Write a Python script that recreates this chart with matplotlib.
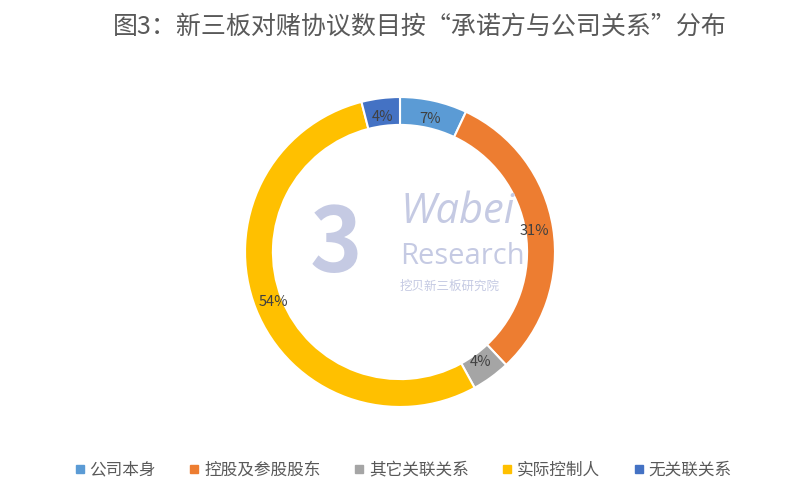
import matplotlib
matplotlib.use("Agg")
import matplotlib.pyplot as plt
from matplotlib.lines import Line2D

plt.rcParams['font.family'] = ['Noto Sans CJK SC', 'DejaVu Sans']

title = "图3：新三板对赌协议数目按“承诺方与公司关系”分布"
labels = ["公司本身", "控股及参股股东", "其它关联关系", "实际控制人", "无关联关系"]
shares = [7, 31, 4, 54, 4]
colors = ["#5B9BD5", "#ED7D31", "#A5A5A5", "#FFC000", "#4472C4"]

fig = plt.figure(figsize=(8, 4.92), dpi=100)
fig.text(0.525, 0.945, title, ha="center", va="center", fontsize=18, color="#595959")

ax = fig.add_axes([0.30625, 0.1728, 0.3875, 0.630])
wedges, texts, autotexts = ax.pie(
    shares, colors=colors, startangle=90, counterclock=False,
    radius=1.0, autopct="%d%%", pctdistance=0.88,
    wedgeprops=dict(width=0.18, edgecolor="white", linewidth=1.5),
    textprops=dict(fontsize=10.5, color="#404040"))
ax.set_xlim(-1, 1)
ax.set_ylim(-1, 1)
ax.set_aspect("equal")
ax.axis("off")

# faint watermark
wm = "#C5CAE3"
fig.text(0.42, 0.50, "3", fontsize=64, color=wm, ha="center", va="center",
         fontweight="bold", zorder=0)
fig.text(0.50, 0.57, "Wabei", fontsize=30, color=wm, ha="left", va="center",
         style="italic", family=["Open Sans", "DejaVu Sans"])
fig.text(0.50, 0.478, "Research", fontsize=21, color=wm, ha="left", va="center",
         family=["Open Sans", "DejaVu Sans"])
fig.text(0.50, 0.418, "挖贝新三板研究院", fontsize=9, color=wm, ha="left", va="center")

handles = [Line2D([0], [0], marker="s", linestyle="none", markersize=6,
                  markerfacecolor=c, markeredgecolor=c) for c in colors]
fig.legend(handles, labels, loc="center", bbox_to_anchor=(0.503, 0.045), ncol=5,
           frameon=False, fontsize=12, labelcolor="#595959", handletextpad=0.2,
           columnspacing=1.9, handlelength=0.8)

fig.savefig("out.png", dpi=100, facecolor="white")
